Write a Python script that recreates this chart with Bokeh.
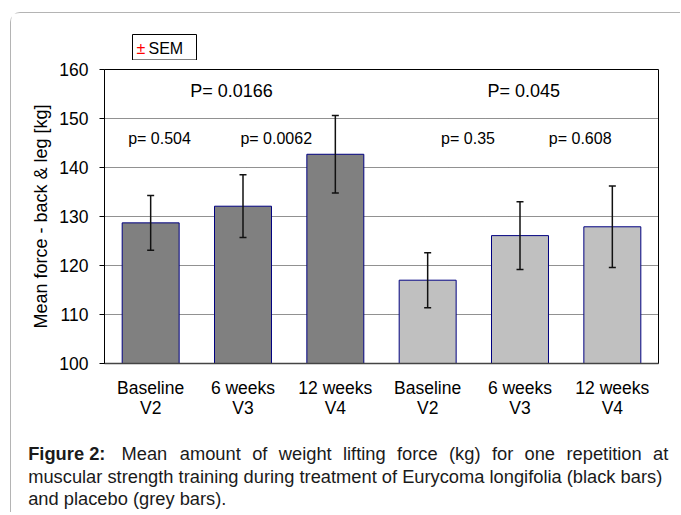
from bokeh.plotting import figure
from bokeh.models import ColumnDataSource, Whisker, TeeHead, FixedTicker, Range1d
from bokeh.layouts import column
from bokeh.core.properties import value
from bokeh.embed import file_html
from bokeh.resources import INLINE

# ---- data ----
categories = ["Baseline\nV2", "6 weeks\nV3", "12 weeks\nV4",
              "Baseline\nV2", "6 weeks\nV3", "12 weeks\nV4"]
groups = ["Eurycoma", "Eurycoma", "Eurycoma", "Placebo", "Placebo", "Placebo"]
mean_force = [128.7, 132.1, 142.7, 117.0, 126.1, 127.9]
sem = [5.6, 6.4, 7.9, 5.6, 6.9, 8.3]
overall_p = ["P= 0.0166", "P= 0.045"]
pair_p = ["p= 0.504", "p= 0.0062", "p= 0.35", "p= 0.608"]
y_ticks = [100, 110, 120, 130, 140, 150, 160]

caption_line1 = ["Mean", "amount", "of", "weight", "lifting", "force", "(kg)",
                 "for", "one", "repetition", "at"]
caption_line2 = "muscular strength training during treatment of Eurycoma longifolia (black bars)"
caption_line3 = "and placebo (grey bars)."

# ---- layout-only values ----
W = 669
xpos = [i + 0.5 for i in range(len(categories))]
group_color = {"Eurycoma": "#808080", "Placebo": "#c0c0c0"}
overall_p_xy = [(1.375, 155.6), (4.54, 155.6)]
pair_p_xy = [(0.596, 146.0), (1.86, 146.0), (3.937, 146.0), (5.152, 146.0)]
caption_word_x = [110, 168.3, 240.7, 267.3, 331.5, 385.5, 437.5, 480.5, 513, 555, 641.5]
FONT = "Liberation Sans"


def blank_fig(height):
    f = figure(width=W, height=height, output_backend="svg", toolbar_location=None,
               x_range=Range1d(0, W), y_range=Range1d(height, 0),
               x_axis_location=None, y_axis_location=None, min_border=0,
               frame_align=False)
    f.outline_line_color = None
    f.grid.grid_line_color = None
    f.background_fill_color = "white"
    f.border_fill_color = "white"
    return f


# ---- header strip with the "± SEM" key ----
head = blank_fig(47)
head.quad(left=[121], right=[185], top=[21], bottom=[46.5],
          fill_color="white", line_color="black", line_width=1)
head.text(x=[125], y=[34.5], text=["\u00b1"], text_font=value(FONT), text_font_size="16px",
          text_color="red", text_align="left", text_baseline="middle")
head.text(x=[137], y=[34.5], text=["SEM"], text_font=value(FONT), text_font_size="16px",
          text_color="black", text_align="left", text_baseline="middle")

# ---- main chart ----
src = ColumnDataSource(dict(
    x=xpos, top=mean_force,
    upper=[m + s for m, s in zip(mean_force, sem)],
    lower=[m - s for m, s in zip(mean_force, sem)],
    color=[group_color[g] for g in groups],
))

p = figure(width=W, height=363, output_backend="svg", toolbar_location=None,
           x_range=Range1d(0, 6), y_range=Range1d(100, 160),
           min_border_left=93, min_border_right=W - 647, min_border_top=9,
           min_border_bottom=60, frame_align=False)
p.background_fill_color = "white"
p.border_fill_color = "white"
p.outline_line_color = "black"
p.outline_line_width = 1

p.vbar(x="x", top="top", bottom=100, width=0.617, source=src,
       fill_color="color", line_color="#000080", line_width=1)

w = Whisker(source=src, base="x", upper="upper", lower="lower", level="overlay",
            line_color="#111111", line_width=1.5,
            upper_head=TeeHead(size=7, line_color="#111111", line_width=1.5),
            lower_head=TeeHead(size=7, line_color="#111111", line_width=1.5))
p.add_layout(w)

p.xgrid.grid_line_color = None
p.ygrid.grid_line_color = "#222222"
p.ygrid.grid_line_dash = "1 1"
p.ygrid.grid_line_width = 1

p.yaxis.ticker = FixedTicker(ticks=y_ticks)
p.yaxis.axis_label = "Mean force - back & leg [kg]"
p.yaxis.axis_label_text_font = FONT
p.yaxis.axis_label_text_font_style = "normal"
p.yaxis.axis_label_text_font_size = "18px"
p.yaxis.axis_label_text_color = "black"
p.yaxis.axis_label_standoff = 5
p.yaxis.major_label_text_font = FONT
p.yaxis.major_label_text_font_size = "17.5px"
p.yaxis.major_label_text_color = "black"
p.yaxis.major_label_standoff = 11
p.yaxis.major_tick_out = 5
p.yaxis.major_tick_in = 0
p.yaxis.minor_tick_line_color = None
p.yaxis.axis_line_color = "black"
p.yaxis.major_tick_line_color = "black"

p.xaxis.ticker = FixedTicker(ticks=xpos)
p.xaxis.major_label_overrides = {x: c for x, c in zip(xpos, categories)}
p.xaxis.major_label_text_font = FONT
p.xaxis.major_label_text_font_size = "17.5px"
p.xaxis.major_label_text_color = "black"
p.xaxis.major_label_text_line_height = 1.0
p.xaxis.major_label_standoff = 8
p.xaxis.major_tick_line_color = None
p.xaxis.minor_tick_line_color = None
p.xaxis.axis_line_color = "#444444"
p.xaxis.axis_line_width = 1.5

p.text(x=[xy[0] for xy in overall_p_xy], y=[xy[1] for xy in overall_p_xy], text=overall_p,
       text_font=value(FONT), text_font_size="18px", text_color="black",
       text_align="center", text_baseline="middle")
p.text(x=[xy[0] for xy in pair_p_xy], y=[xy[1] for xy in pair_p_xy], text=pair_p,
       text_font=value(FONT), text_font_size="16px", text_color="black",
       text_align="center", text_baseline="middle")

# ---- caption ----
cap = blank_fig(89)
cap_size = "18.3px"
cap.text(x=[16.7], y=[29.5], text=["Figure 2:"], text_font=value(FONT),
         text_font_size=cap_size, text_font_style="bold", text_color="#1a1a1a",
         text_align="left", text_baseline="alphabetic")
cap.text(x=caption_word_x, y=[29.5] * len(caption_line1), text=caption_line1,
         text_font=value(FONT), text_font_size=cap_size, text_color="#1a1a1a",
         text_align="left", text_baseline="alphabetic")
cap.text(x=[16.7, 16.7], y=[53, 74.5], text=[caption_line2, caption_line3],
         text_font=value(FONT), text_font_size=cap_size, text_color="#1a1a1a",
         text_align="left", text_baseline="alphabetic")

layout = column(head, p, cap, margin=(12, 0, 0, 10), spacing=0,
                styles={"border-top": "1px solid #b4b4b4", "border-left": "1px solid #b4b4b4",
                        "border-top-left-radius": "10px"})

open("out.html", "w").write(file_html(layout, INLINE))
